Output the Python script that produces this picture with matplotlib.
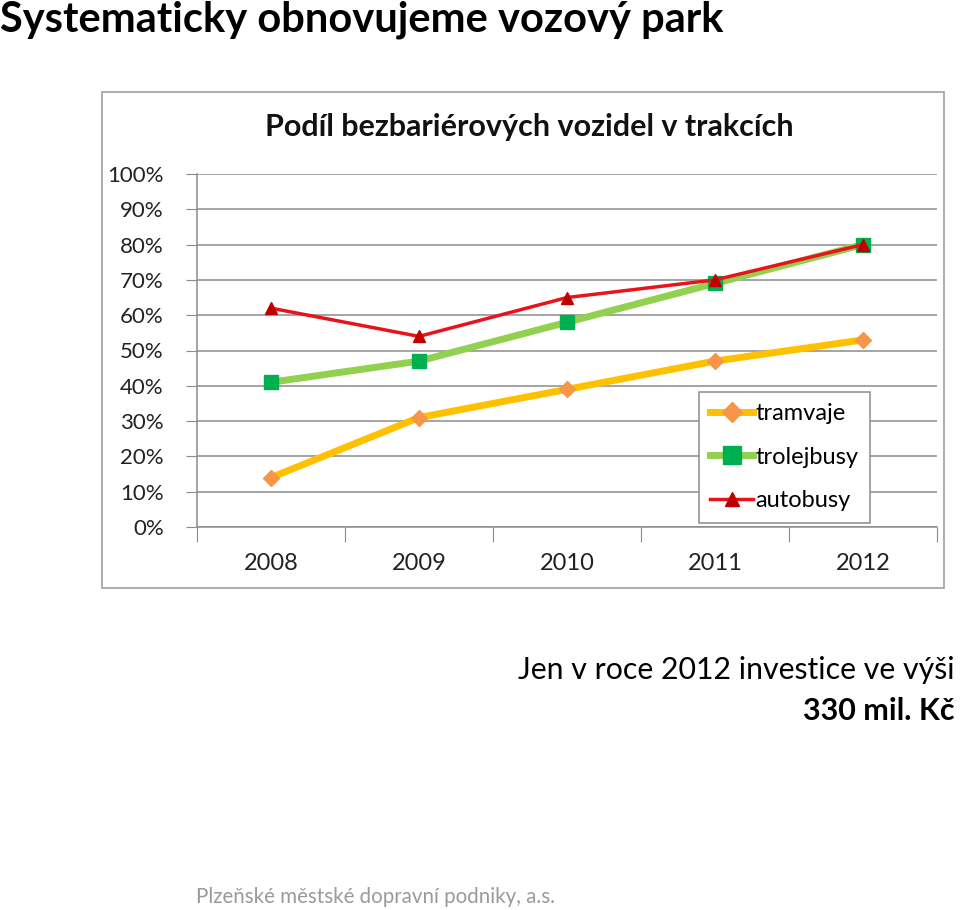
import numpy as np
import matplotlib.pyplot as plt
from matplotlib.patches import Rectangle

plt.rcParams['font.family'] = ['Lato', 'DejaVu Sans']

years = ["2008", "2009", "2010", "2011", "2012"]
tramvaje = [14, 31, 39, 47, 53]
trolejbusy = [41, 47, 58, 69, 80]
autobusy = [62, 54, 65, 70, 80]
y_ticks = [0, 10, 20, 30, 40, 50, 60, 70, 80, 90, 100]

fig = plt.figure(figsize=(9.6, 9.1), dpi=100)

# rámeček grafu
fig.patches.append(Rectangle((102 / 960, 1 - 588 / 910), 842 / 960, 496 / 910,
                             transform=fig.transFigure, fill=False,
                             edgecolor="#a0a0a0", linewidth=1.2))

ax = fig.add_axes([197 / 960, 1 - 527 / 910, 740 / 960, 353 / 910])
x = np.arange(len(years))

ax.plot(x, tramvaje, color="#FFC000", linewidth=5, marker="D", markersize=8.5,
        markerfacecolor="#F79646", markeredgecolor="#F79646", label="tramvaje", zorder=3)
ax.plot(x, trolejbusy, color="#92D050", linewidth=5, marker="s", markersize=10.5,
        markerfacecolor="#00B050", markeredgecolor="#00B050", label="trolejbusy", zorder=3)
ax.plot(x, autobusy, color="#E8141B", linewidth=2.5, marker="^", markersize=8.5,
        markerfacecolor="#C00000", markeredgecolor="#C00000", label="autobusy", zorder=4)

ax.set_xlim(-0.5, len(years) - 0.5)
ax.set_ylim(0, 100)
ax.set_yticks(y_ticks)
ax.set_yticklabels([f"{v}%" for v in y_ticks], fontsize=16, color="#222222")
ax.yaxis.grid(True, color="#8c8c8c", linewidth=1.1)
ax.set_axisbelow(True)

ax.set_xticks(np.arange(-0.5, len(years)), minor=False)
ax.set_xticklabels([])
ax.set_xticks(x, minor=True)
ax.set_xticklabels(years, minor=True, fontsize=17, color="#222222")
ax.tick_params(axis="x", which="major", length=11, color="#8c8c8c", direction="out")
ax.tick_params(axis="x", which="minor", length=0, pad=19)
ax.tick_params(axis="y", length=8, color="#8c8c8c", pad=16)

for s in ["top", "right"]:
    ax.spines[s].set_visible(False)
for s in ["left", "bottom"]:
    ax.spines[s].set_color("#8c8c8c")
    ax.spines[s].set_linewidth(1.1)

leg = ax.legend(loc="lower right", bbox_to_anchor=(870 / 960, 1 - 523 / 910),
                bbox_transform=fig.transFigure, borderaxespad=0, fontsize=17,
                frameon=True, fancybox=False, edgecolor="#8c8c8c", framealpha=1,
                handlelength=1.8, handletextpad=0.1, labelspacing=0.95,
                borderpad=0.5, markerscale=1.2)
leg.get_frame().set_linewidth(1.1)

fig.text(529 / 960, 1 - 127 / 910, "Podíl bezbariérových vozidel v trakcích",
         ha="center", va="center", fontsize=22, fontweight="bold", color="#111111")

fig.text(0.0, 1 - 20 / 910, "Systematicky obnovujeme vozový park",
         ha="left", va="center", fontsize=30, fontweight="bold", color="#000000")
fig.text(955 / 960, 1 - 670 / 910, "Jen v roce 2012 investice ve výši",
         ha="right", va="center", fontsize=21.8, color="#000000")
fig.text(955 / 960, 1 - 711 / 910, "330 mil. Kč",
         ha="right", va="center", fontsize=22, fontweight="bold", color="#000000")
fig.text(196 / 960, 1 - 897 / 910, "Plzeňské městské dopravní podniky, a.s.",
         ha="left", va="center", fontsize=14.8, color="#9a9a9a")

fig.savefig("out.png", dpi=100)
